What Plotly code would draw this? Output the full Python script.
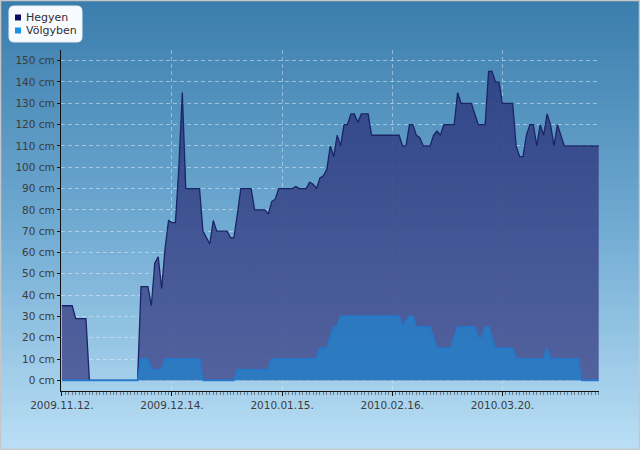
import plotly.graph_objects as go
import pandas as pd

start_date = "2009-11-12"
n_days = 157
dates = pd.date_range(start_date, periods=n_days, freq="D")

hegyen = [35, 35, 35, 35, 29, 29, 29, 29, 0, 0, 0, 0, 0, 0, 0, 0, 0, 0, 0, 0, 0, 0, 0,
          44, 44, 44, 35, 55, 58, 43, 62, 75, 74, 74, 100, 135, 90, 90, 90, 90, 90,
          70, 67, 64, 75, 70, 70, 70, 70, 67, 67,
          78, 90, 90, 90, 90, 80, 80, 80, 80, 78,
          84, 85, 90, 90, 90, 90, 90, 91, 90, 90,
          90, 93, 92, 90, 95, 96, 99, 110, 105, 115,
          110, 120, 120, 125, 125, 121, 125, 125, 125, 115,
          115, 115, 115, 115, 115, 115, 115, 115, 110, 110,
          120, 120, 115, 114, 110, 110, 110, 115, 117, 115,
          120, 120, 120, 120, 135, 130, 130, 130, 130, 125,
          120, 120, 120, 145, 145, 140, 140, 130, 130, 130,
          130, 110, 105, 105, 115, 120, 120, 110, 120, 115,
          125, 120, 110, 120, 115, 110, 110, 110, 110, 110,
          110, 110, 110, 110, 110, 110]

volgyben = [0, 0, 0, 0, 0, 0, 0, 0, 0, 0, 0, 0, 0, 0, 0, 0, 0, 0, 0, 0, 0, 0, 0,
            10, 10, 10, 5, 5, 5, 5, 10, 10, 10, 10, 10, 10, 10, 10, 10, 10, 10,
            0, 0, 0, 0, 0, 0, 0, 0, 0, 0,
            5, 5, 5, 5, 5, 5, 5, 5, 5, 5,
            10, 10, 10, 10, 10, 10, 10, 10, 10, 10,
            10, 10, 10, 10, 15, 15, 15, 20, 25, 25,
            30, 30, 30, 30, 30, 30, 30, 30, 30, 30,
            30, 30, 30, 30, 30, 30, 30, 30, 25, 28,
            30, 30, 25, 25, 25, 25, 25, 20, 15, 15,
            15, 15, 15, 20, 25, 25, 25, 25, 25, 25,
            20, 20, 25, 25, 20, 15, 15, 15, 15, 15,
            15, 10, 10, 10, 10, 10, 10, 10, 10, 10,
            15, 10, 10, 10, 10, 10, 10, 10, 10, 10,
            0, 0, 0, 0, 0, 0]

series_names = ["Hegyen", "Völgyben"]
x_tick_dates = ["2009-11-12", "2009-12-14", "2010-01-15", "2010-02-16", "2010-03-20"]
x_tick_text = ["2009.11.12.", "2009.12.14.", "2010.01.15.", "2010.02.16.", "2010.03.20."]
y_tick_vals = [0, 10, 20, 30, 40, 50, 60, 70, 80, 90, 100, 110, 120, 130, 140, 150]
y_tick_text = [f"{v} cm" for v in y_tick_vals]

W, H = 640, 450
ML, MR, MT, MB = 61, 41, 50, 59
PW, PH = W - ML - MR, H - MT - MB

def px_to_paper_x(px):
    return (px - ML) / PW

def px_to_paper_y(py):
    return (H - MB - py) / PH

fig = go.Figure()

fig.add_trace(go.Scatter(
    x=dates, y=hegyen, name=series_names[0], mode="lines",
    line=dict(color="rgb(26,36,102)", width=1.3),
    fill="tozeroy",
    fillgradient=dict(type="vertical", start=0, stop=150,
                      colorscale=[[0, "rgba(74,86,150,0.9)"], [1, "rgba(44,62,130,0.9)"]]),
    showlegend=False, hoverinfo="x+y",
))
fig.add_trace(go.Scatter(
    x=dates, y=volgyben, name=series_names[1], mode="lines",
    line=dict(color="rgb(34,122,205)", width=1.6),
    fill="tozeroy", fillcolor="rgba(42,124,195,0.93)",
    showlegend=False, hoverinfo="x+y",
))

shapes = []
# background vertical gradient
stops = [(0.0, (58, 125, 172)), (0.5, (112, 170, 210)), (1.0, (186, 223, 245))]
def grad(t):
    for (t0, c0), (t1, c1) in zip(stops[:-1], stops[1:]):
        if t0 <= t <= t1:
            f = (t - t0) / (t1 - t0)
            return tuple(int(round(a + (b - a) * f)) for a, b in zip(c0, c1))
    return stops[-1][1]

n_str = 90
for i in range(n_str):
    py0 = i * H / n_str
    py1 = (i + 1) * H / n_str + 0.6
    c = grad((i + 0.5) / n_str)
    shapes.append(dict(type="rect", xref="paper", yref="paper",
                       x0=px_to_paper_x(-2), x1=px_to_paper_x(W + 2),
                       y0=px_to_paper_y(py1), y1=px_to_paper_y(py0),
                       fillcolor=f"rgb{c}", line=dict(width=0), layer="below"))

# outer border
shapes.append(dict(type="rect", xref="paper", yref="paper",
                   x0=px_to_paper_x(0.5), x1=px_to_paper_x(W - 0.5),
                   y0=px_to_paper_y(H - 0.5), y1=px_to_paper_y(0.5),
                   line=dict(color="#c6c6c6", width=1.5), layer="above"))

# legend box (rounded)
bx0, bx1, by0, by1, r = 9, 82, 6, 42, 5
X = px_to_paper_x
Y = px_to_paper_y
path = (f"M {X(bx0+r)},{Y(by0)} L {X(bx1-r)},{Y(by0)} Q {X(bx1)},{Y(by0)} {X(bx1)},{Y(by0+r)} "
        f"L {X(bx1)},{Y(by1-r)} Q {X(bx1)},{Y(by1)} {X(bx1-r)},{Y(by1)} "
        f"L {X(bx0+r)},{Y(by1)} Q {X(bx0)},{Y(by1)} {X(bx0)},{Y(by1-r)} "
        f"L {X(bx0)},{Y(by0+r)} Q {X(bx0)},{Y(by0)} {X(bx0+r)},{Y(by0)} Z")
shapes.append(dict(type="path", xref="paper", yref="paper", path=path,
                   fillcolor="#f7fbff", line=dict(color="#e8eef4", width=1), layer="above"))

legend_colors = ["#0c0c5e", "#1b93dc"]
legend_y = [17.5, 30.5]
annotations = []
for name, col, ly in zip(series_names, legend_colors, legend_y):
    shapes.append(dict(type="rect", xref="paper", yref="paper",
                       x0=X(15), x1=X(21), y0=Y(ly + 3), y1=Y(ly - 3),
                       fillcolor=col, line=dict(width=0), layer="above"))
    annotations.append(dict(text=name, xref="paper", yref="paper",
                            x=X(24), y=Y(ly), xanchor="left", yanchor="middle",
                            showarrow=False, font=dict(family="DejaVu Sans", size=11, color="#2e2e2e")))

fig.update_layout(
    width=W, height=H,
    margin=dict(l=ML, r=MR, t=MT, b=MB, pad=0),
    paper_bgcolor="rgb(112,170,210)",
    plot_bgcolor="rgba(0,0,0,0)",
    shapes=shapes,
    annotations=annotations,
    showlegend=False,
    font=dict(family="DejaVu Sans", size=10.5, color="#3c3c3c"),
)

fig.update_xaxes(
    type="date",
    range=["2009-11-11 18:00", "2010-04-17 02:00"],
    tickmode="array", tickvals=x_tick_dates, ticktext=x_tick_text,
    ticks="outside", ticklen=4, tickcolor="#111", tickwidth=1,
    showline=True, linecolor="#111", linewidth=1.2,
    showgrid=True, gridcolor="rgba(230,240,250,0.45)", griddash="4px,3px", gridwidth=1,
    zeroline=False,
    tickfont=dict(family="DejaVu Sans", size=10.5, color="#3c3c3c"),
    minor=dict(dtick=86400000, tick0="2009-11-12", ticks="outside", ticklen=3,
               tickcolor="rgba(90,100,110,0.8)", showgrid=False),
)
fig.update_yaxes(
    range=[-5, 155],
    tickmode="array", tickvals=y_tick_vals, ticktext=y_tick_text,
    ticks="outside", ticklen=3, tickcolor="#111", tickwidth=1,
    showline=True, linecolor="#111", linewidth=1.2,
    showgrid=True, gridcolor="rgba(230,240,250,0.5)", griddash="4px,3px", gridwidth=1,
    zeroline=False,
    tickfont=dict(family="DejaVu Sans", size=10.5, color="#3c3c3c"),
)

fig.write_html("out.html")
